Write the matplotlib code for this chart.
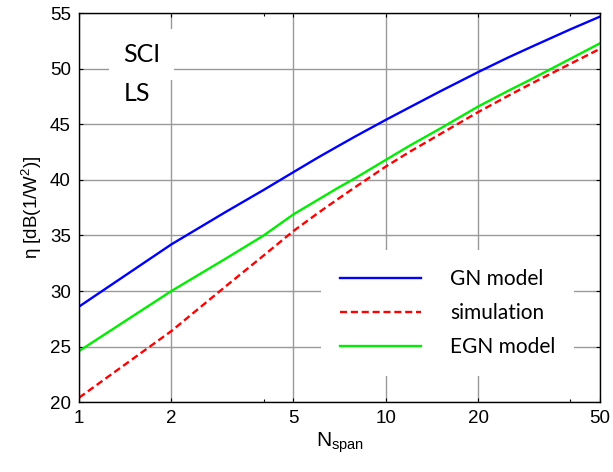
import matplotlib
matplotlib.use("Agg")
import matplotlib.pyplot as plt
from matplotlib.ticker import FixedLocator, NullFormatter

# values
n_span = [1, 2, 3, 4, 5, 6, 7, 8, 10, 12, 15, 20, 25, 30, 40, 50]
gn_model = [28.6, 34.2, 37.1, 39.1, 40.7, 42.0, 43.05, 43.95, 45.4, 46.55, 47.95, 49.7, 51.0, 52.0, 53.55, 54.7]
simulation = [20.4, 26.4, 30.4, 33.2, 35.4, 37.0, 38.3, 39.4, 41.2, 42.55, 44.1, 46.1, 47.55, 48.7, 50.45, 51.8]
egn_model = [24.6, 30.0, 32.9, 35.0, 36.9, 38.2, 39.3, 40.2, 41.8, 43.1, 44.6, 46.6, 48.0, 49.1, 50.9, 52.3]

x_ticks = [1, 2, 5, 10, 20, 50]
y_ticks = [20, 25, 30, 35, 40, 45, 50, 55]

plt.rcParams['font.family'] = ['Liberation Sans', 'DejaVu Sans']

fig = plt.figure(figsize=(6.13, 4.72), dpi=100)
ax = fig.add_axes([0.129, 0.148, 0.850, 0.824])

ax.plot(n_span, gn_model, color='#0000ff', lw=1.7, label='GN model')
ax.plot(n_span, simulation, color='#ff0000', lw=1.7, ls=(0, (3, 1.6)), label='simulation')
ax.plot(n_span, egn_model, color='#00ee00', lw=1.7, label='EGN model')

ax.set_xscale('log')
ax.set_xlim(1, 50)
ax.set_ylim(20, 55)
ax.xaxis.set_major_locator(FixedLocator(x_ticks))
ax.xaxis.set_minor_locator(FixedLocator([4, 40]))
ax.xaxis.set_minor_formatter(NullFormatter())
ax.set_xticklabels([str(t) for t in x_ticks])
ax.set_yticks(y_ticks)
ax.tick_params(axis='both', which='both', direction='in', top=True, right=True,
               labelsize=13.5, length=3, width=0.8, pad=6)
ax.tick_params(axis='x', which='minor', length=2)
ax.grid(True, which='major', color='#999999', lw=1.0)
for sp in ax.spines.values():
    sp.set_linewidth(1.0)

ax.set_xlabel(r'N$_{\mathregular{span}}$', fontsize=15, labelpad=2)
ax.set_ylabel(r'η [dB(1/W$^{\mathregular{2}}$)]', fontsize=13.5, labelpad=4)

ax.text(0.085, 0.893, 'SCI', transform=ax.transAxes, fontsize=18, family='Lato',
        va='center', ha='left', zorder=5,
        bbox=dict(facecolor='white', edgecolor='none', pad=10))
ax.text(0.085, 0.793, 'LS', transform=ax.transAxes, fontsize=18, family='Lato',
        va='center', ha='left', zorder=5,
        bbox=dict(facecolor='white', edgecolor='none', pad=10))

leg = ax.legend(loc='lower right', bbox_to_anchor=(0.97, 0.04), frameon=True,
                fancybox=False, edgecolor='none', facecolor='white', framealpha=1,
                prop={'family': 'Lato', 'size': 15}, handlelength=3.9,
                handletextpad=1.4, labelspacing=0.68, borderpad=0.9)

fig.savefig('out.png', dpi=100)
